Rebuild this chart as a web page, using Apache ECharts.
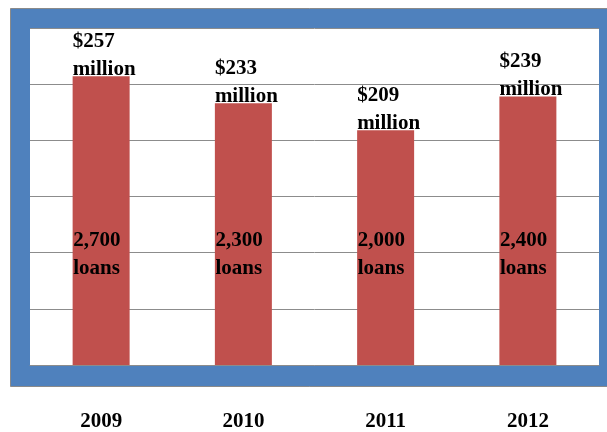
<!DOCTYPE html>
<html>
<head>
<meta charset="utf-8">
<script src="https://cdn.jsdelivr.net/npm/echarts@6/dist/echarts.min.js"></script>
<style>
html,body{margin:0;padding:0;background:#fff;}
#chart{width:607px;height:432px;}
</style>
</head>
<body>
<div id="chart"></div>
<script>
const years = ['2009', '2010', '2011', '2012'];
const amountsMillion = [257, 233, 209, 239];
const loanCounts = ['2,700', '2,300', '2,000', '2,400'];

const FONT = 'Liberation Serif';
const textStyle = {
  fontFamily: FONT, fontWeight: 'bold', fontSize: 21, color: '#000', lineHeight: 28
};

const chart = echarts.init(document.getElementById('chart'), null, {renderer: 'canvas'});
chart.setOption({
  animation: false,
  backgroundColor: '#fff',
  graphic: [
    {type: 'rect', z: -10, shape: {x: 10.5, y: 8.5, width: 620, height: 378},
     style: {fill: '#4F81BD', stroke: '#8a8a8a', lineWidth: 1}},
    {type: 'rect', z: -9, shape: {x: 30, y: 28, width: 569, height: 338},
     style: {fill: '#fff'}}
  ],
  grid: {left: 30, right: 8, top: 28, bottom: 66},
  xAxis: {
    type: 'category',
    data: years,
    axisLine: {show: true, lineStyle: {color: '#8c8c8c', width: 1}},
    axisTick: {show: false},
    axisLabel: {margin: 46, fontFamily: FONT, fontWeight: 'bold', fontSize: 21, color: '#000'}
  },
  yAxis: {
    type: 'value', min: 0, max: 300, interval: 50,
    axisLine: {show: false}, axisTick: {show: false}, axisLabel: {show: false},
    splitLine: {show: true, lineStyle: {color: '#8c8c8c', width: 1}}
  },
  series: [
    {
      type: 'bar',
      data: amountsMillion,
      barWidth: 57,
      itemStyle: {color: '#C0504D'},
      label: Object.assign({
        show: true, position: 'top', distance: 0, align: 'left', offset: [-28.5, 7],
        formatter: p => '$' + p.value + '\nmillion'
      }, textStyle)
    },
    {
      type: 'bar',
      data: amountsMillion,
      barWidth: 57,
      barGap: '-100%',
      silent: true,
      itemStyle: {color: 'rgba(0,0,0,0)'},
      label: Object.assign({
        show: true, position: 'insideBottom', distance: 0, align: 'left', offset: [-28, -82],
        formatter: p => loanCounts[p.dataIndex] + '\nloans'
      }, textStyle)
    }
  ]
});
</script>
</body>
</html>
